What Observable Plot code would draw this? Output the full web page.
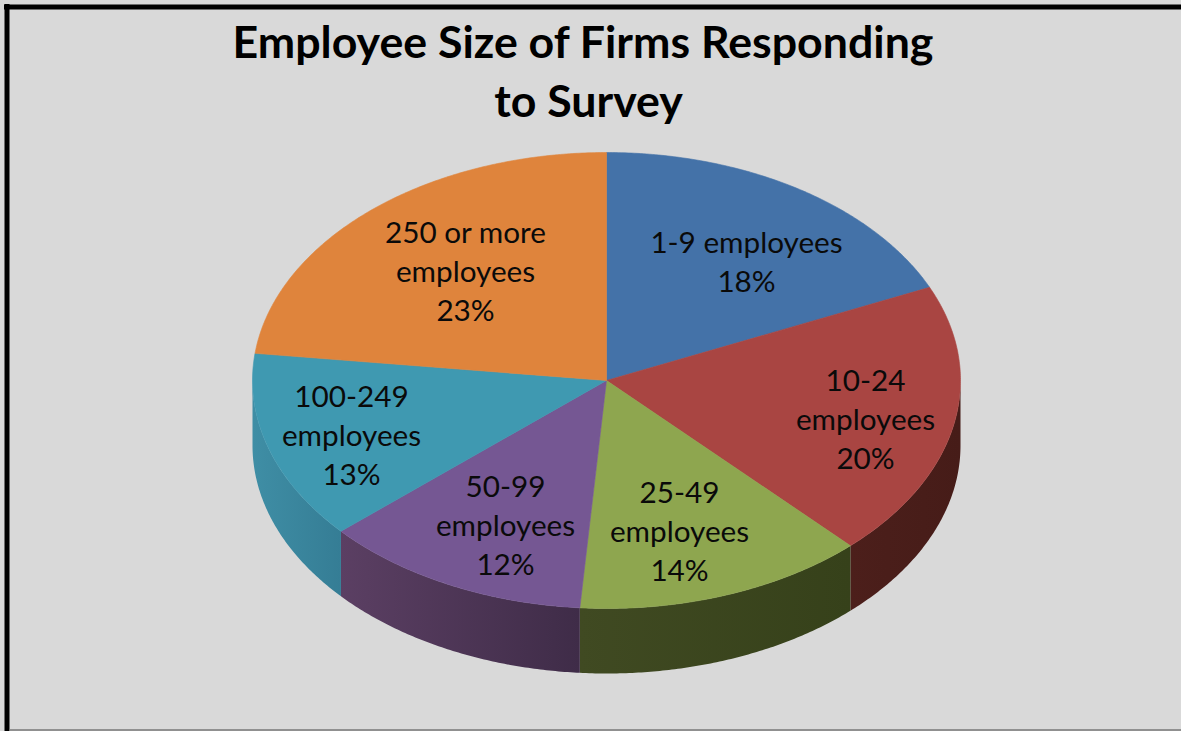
<!DOCTYPE html>
<html>
<head>
<meta charset="utf-8">
<title>Employee Size of Firms Responding to Survey</title>
<script src="https://cdn.jsdelivr.net/npm/d3@7"></script>
<script src="https://cdn.jsdelivr.net/npm/@observablehq/plot@0.6"></script>
<style>
html,body{margin:0;padding:0;background:#d9d9d9;}
svg{display:block;}
</style>
</head>
<body>
<div id="chart"></div>
<script>
// Data
const categories = ["1-9\u00a0employees", "10-24\nemployees", "25-49\nemployees", "50-99\nemployees", "100-249\nemployees", "250 or more\nemployees"];
const percentLabels = [18, 20, 14, 12, 13, 23];
const sliceShares = [18.3, 19.6, 13.3, 12.3, 13.4, 23.1];
const titleLines = ["Employee Size of Firms Responding", "to Survey"];

// Styles
const topColors = ["#4472a8", "#a94542", "#8ea64f", "#755793", "#3f99b1", "#df843c"];
const sideStart = ["#2c4568", "#4c1f1b", "#404a22", "#5b3f63", "#3f8ea5", "#8a5225"];
const sideEnd   = ["#2c4568", "#461c18", "#36411a", "#3f2c48", "#357d95", "#8a5225"];

// Layout
const W = 1181, H = 731;
const cx = 606, cy = 380, rx = 354, ry = 228, depth = 65;
const labelX = [746, 865, 679, 505, 351, 465];
const labelY = [260, 417.5, 529.5, 523.5, 433.5, 269.5];
const titleX = [582.5, 588];

const rim = (deg, dy = 0) => {
  const a = deg * Math.PI / 180;
  return {x: cx + rx * Math.sin(a), y: cy - ry * Math.cos(a) + dy};
};

// Build slices from the shares
let acc = 0;
const slices = sliceShares.map((s, i) => {
  const a0 = acc * 3.6; acc += s; const a1 = acc * 3.6;
  return {i, a0, a1};
});
const arcAngles = (a0, a1) => {
  const n = Math.max(2, Math.ceil((a1 - a0) / 0.5));
  return d3.range(n + 1).map(k => a0 + (a1 - a0) * k / n);
};
const topPts = slices.flatMap(s => [
  {x: cx, y: cy, i: s.i},
  ...arcAngles(s.a0, s.a1).map(a => ({...rim(a), i: s.i})),
  {x: cx, y: cy, i: s.i}
]);
// The wall is only visible on the front half of the disc (90 to 270 degrees)
const sidePts = slices.flatMap(s => {
  const a0 = Math.max(s.a0, 90), a1 = Math.min(s.a1, 270);
  if (a1 <= a0) return [];
  const as = arcAngles(a0, a1);
  return [
    ...as.map(a => ({...rim(a), i: s.i})),
    ...as.slice().reverse().map(a => ({...rim(a, depth), i: s.i}))
  ];
});
const labels = categories.map((c, i) => ({
  text: `${c}\n${percentLabels[i]}%`, x: labelX[i], y: labelY[i]
}));
const titles = titleLines.map((t, i) => ({text: t, x: titleX[i], y: 43 + 59 * i}));

const chart = Plot.plot({
  width: W, height: H, margin: 0,
  x: {domain: [0, W], range: [0, W], axis: null},
  y: {domain: [0, H], range: [0, H], axis: null},
  color: {type: "identity"},
  style: {background: "#d9d9d9"},
  marks: [
    Plot.line(sidePts, {x: "x", y: "y", z: "i", fill: d => `url(#side-${d.i})`, stroke: "none", curve: "linear"}),
    Plot.line(topPts, {x: "x", y: "y", z: "i", fill: d => topColors[d.i], stroke: d => topColors[d.i], strokeWidth: 0.6, curve: "linear"}),
    Plot.text(labels, {x: "x", y: "y", text: "text", fontSize: 29.7, lineHeight: 39 / 29.7, fontFamily: "Lato, 'Open Sans', sans-serif", fill: "#0a0a0a", textAnchor: "middle"}),
    Plot.text(titles, {x: "x", y: "y", text: "text", fontSize: 44.7, fontWeight: 700, fontFamily: "Lato, 'Open Sans', sans-serif", fill: "#000", textAnchor: "middle"}),
    Plot.ruleY([6.5], {x1: 4, x2: W, stroke: "#000", strokeWidth: 5}),
    Plot.ruleX([6.5], {y1: 4, y2: H, stroke: "#000", strokeWidth: 5}),
    Plot.ruleY([729.5], {x1: 9, x2: W, stroke: "#777", strokeWidth: 1.5})
  ]
});

// Shading of the disc wall
const defs = d3.select(chart).insert("defs", ":first-child");
sideStart.forEach((c, i) => {
  const g = defs.append("linearGradient").attr("id", `side-${i}`).attr("x1", 0).attr("x2", 1).attr("y1", 0).attr("y2", 0);
  g.append("stop").attr("offset", "0%").attr("stop-color", c);
  g.append("stop").attr("offset", "100%").attr("stop-color", sideEnd[i]);
});
document.getElementById("chart").append(chart);
</script>
</body>
</html>
